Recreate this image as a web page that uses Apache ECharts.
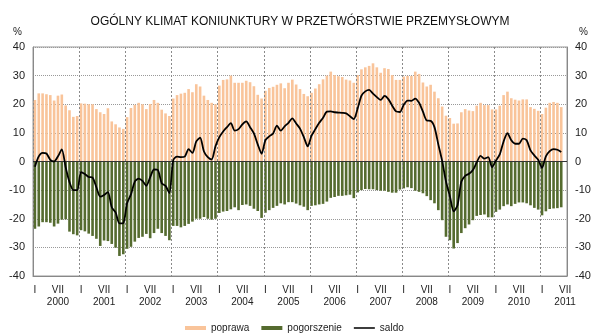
<!DOCTYPE html>
<html><head><meta charset="utf-8">
<script src="https://cdn.jsdelivr.net/npm/echarts@6/dist/echarts.min.js"></script>
<style>html,body{margin:0;padding:0;background:#fff}#c{width:600px;height:334px}</style>
</head><body><div id="c"></div>
<script>
const titleText = 'OGÓLNY KLIMAT KONIUNKTURY W PRZETWÓRSTWIE PRZEMYSŁOWYM';
const years = [2000,2001,2002,2003,2004,2005,2006,2007,2008,2009,2010,2011];
const lastMonth2011 = 7;
const yTicks = [-40,-30,-20,-10,0,10,20,30,40];
const seriesNames = ['poprawa','pogorszenie','saldo'];

const poprawa = [
 21.5,23.8,23.8,23.5,23.2,21.3,23.0,23.4,19.6,17.9,15.6,15.9,
 20.3,20.2,20.0,20.0,18.3,17.2,16.6,18.6,14.0,13.0,11.9,11.4,
 15.5,18.7,19.8,20.5,20.0,18.3,20.1,21.5,20.5,18.1,16.8,15.9,
 22.0,23.2,23.7,24.0,25.3,24.2,27.0,26.2,23.0,21.5,20.5,20.0,
 26.5,28.5,28.7,30.0,27.5,27.5,27.5,28.2,27.7,26.3,23.3,22.0,
 24.7,25.7,26.1,26.8,27.3,25.6,27.5,28.6,26.9,25.3,23.6,22.8,
 24.0,25.5,27.0,28.7,30.0,31.4,30.2,29.8,29.5,28.6,28.3,27.5,
 30.2,32.2,32.9,33.4,34.3,32.9,31.0,32.6,32.3,30.2,28.5,28.5,
 29.7,29.9,29.9,31.4,30.6,27.6,26.2,26.8,24.4,22.1,19.2,16.0,
 15.2,13.2,13.3,17.2,18.3,17.8,17.6,19.5,20.5,19.7,19.7,18.2,
 18.2,19.5,23.2,24.4,22.1,21.6,21.3,21.7,21.7,19.0,18.4,17.7,
 16.6,18.8,20.5,20.8,20.5,19.0
];
const pogorszenie = [
 -23.5,-22.7,-21.2,-21.2,-21.4,-22.7,-21.7,-20.3,-20.2,-24.5,-25.4,-25.8,
 -24.0,-24.4,-25.2,-26.0,-27.0,-29.5,-27.6,-27.8,-28.8,-30.1,-33.0,-32.4,
 -30.5,-29.8,-28.0,-26.7,-26.3,-25.3,-26.8,-25.0,-23.5,-25.0,-26.0,-27.5,
 -22.5,-22.5,-23.0,-22.5,-21.8,-21.0,-20.0,-20.0,-19.4,-20.0,-20.3,-20.0,
 -18.0,-17.5,-17.3,-16.7,-16.0,-17.0,-15.2,-15.0,-15.5,-16.5,-17.3,-19.7,
 -17.9,-17.0,-16.2,-15.5,-14.6,-15.0,-14.2,-14.2,-14.7,-15.3,-15.8,-17.0,
 -15.5,-15.3,-15.0,-14.8,-14.0,-12.7,-12.4,-12.0,-12.0,-11.8,-11.6,-12.8,
 -10.8,-10.0,-9.6,-9.7,-9.7,-10.0,-10.2,-10.2,-10.6,-10.9,-10.9,-9.8,
 -9.4,-9.0,-9.3,-10.2,-10.6,-11.1,-12.1,-13.5,-14.6,-17.0,-20.5,-26.3,
 -27.5,-30.4,-28.5,-25.0,-23.3,-22.0,-20.5,-19.0,-18.7,-18.5,-19.5,-19.5,
 -17.6,-16.8,-15.6,-15.0,-15.6,-14.8,-14.3,-14.3,-14.6,-15.3,-16.2,-16.8,
 -18.8,-17.4,-16.6,-16.4,-16.3,-16.0
];
const saldo = [
 -1.8,1.8,3.0,2.8,0.6,0.0,1.8,4.2,-2.0,-7.2,-10.0,-10.0,
 -3.7,-4.4,-5.4,-5.6,-9.0,-12.3,-11.7,-10.7,-16.0,-17.8,-21.6,-21.5,
 -14.5,-11.5,-7.0,-6.0,-6.8,-8.5,-5.5,-2.8,-3.0,-7.6,-8.5,-11.0,
 0.5,1.7,1.5,1.7,4.3,3.0,7.0,8.3,3.5,1.5,0.7,5.3,
 8.5,10.5,12.0,13.4,10.8,11.3,13.0,14.0,12.0,9.8,6.0,2.7,
 7.5,8.8,9.8,12.5,10.8,12.3,13.5,15.1,13.3,11.5,8.5,5.3,
 9.0,11.3,13.5,15.3,17.4,17.5,17.2,17.1,17.0,16.8,15.8,14.8,
 18.5,23.0,24.5,25.0,23.7,22.5,21.5,22.9,21.8,19.5,17.5,17.3,
 19.8,21.3,21.2,22.0,20.5,17.4,14.3,14.2,12.0,6.0,0.2,-7.0,
 -12.0,-17.4,-15.3,-7.0,-5.0,-4.3,-3.0,-0.3,2.0,1.0,1.5,-2.0,
 0.3,2.5,7.0,9.9,7.4,6.2,6.2,8.0,7.4,3.9,2.1,0.6,
 -2.2,1.8,3.6,4.3,4.1,3.3
];

const categories = [];
years.forEach(y => {
  for (let m = 1; m <= 12; m++) {
    if (y === 2011 && m > lastMonth2011) break;
    categories.push(y + '-' + (m < 10 ? '0' + m : m));
  }
});
const yearStarts = categories.filter(c => c.slice(5, 7) === '01');

const FONT = 'Arial, "Liberation Sans", sans-serif';
const txt = '#222';
const chart = echarts.init(document.getElementById('c'), null, {renderer: 'canvas'});

const yAxisBase = {
  type: 'value', min: yTicks[0], max: yTicks[yTicks.length - 1], interval: 10,
  axisLine: {show: true, lineStyle: {color: '#888', width: 1}},
  axisTick: {show: false},
  axisLabel: {color: txt, fontSize: 11, fontFamily: FONT, margin: 8}
};

chart.setOption({
  animation: false,
  backgroundColor: '#fff',
  textStyle: {fontFamily: FONT},
  title: {
    text: titleText, left: 'center', top: 11,
    textStyle: {fontSize: 12, fontWeight: 'normal', color: '#111', fontFamily: FONT}
  },
  graphic: [
    {type: 'text', left: 13, top: 27, style: {text: '%', fill: txt, font: '10px ' + FONT}},
    {type: 'text', left: 579, top: 27, style: {text: '%', fill: txt, font: '10px ' + FONT}}
  ],
  legend: {
    left: 180, top: 318, itemWidth: 21, itemHeight: 4, itemGap: 12,
    symbolKeepAspect: true,
    textStyle: {fontSize: 10, color: txt, fontFamily: FONT},
    data: [
      {name: seriesNames[0], icon: 'rect'},
      {name: seriesNames[1], icon: 'rect'},
      {name: seriesNames[2], icon: 'path://M0,0L22,0L22,1.6L0,1.6Z'}
    ]
  },
  grid: {left: 33, right: 33, top: 47, bottom: 58, show: true, borderColor: '#999', borderWidth: 1, containLabel: false},
  xAxis: {
    type: 'category', data: categories, boundaryGap: true,
    axisLine: {onZero: false, lineStyle: {color: '#888'}},
    axisTick: {show: false},
    axisLabel: {
      interval: 0, color: txt, fontSize: 10, fontFamily: FONT, margin: 8, lineHeight: 12,
      formatter: (v) => {
        const m = +v.slice(5, 7);
        if (m === 1) return 'I';
        if (m === 7) return 'VII\n' + v.slice(0, 4);
        return '';
      }
    },
    splitLine: {show: false}
  },
  yAxis: [
    Object.assign({}, yAxisBase, {position: 'left', splitLine: {show: true, lineStyle: {type: 'dotted', color: '#999'}}}),
    Object.assign({}, yAxisBase, {position: 'right', splitLine: {show: false}})
  ],
  series: [
    {
      name: 'yearGrid', type: 'custom', data: yearStarts.map(c => [c, 0]), silent: true, z: 10,
      encode: {x: 0, y: 1},
      renderItem: (params, api) => {
        const p = api.coord([api.value(0), 0]);
        const bw = api.size([1, 0])[0];
        const x = Math.round(p[0] - bw / 2) + 0.5;
        const cs = params.coordSys;
        return {
          type: 'line',
          shape: {x1: x, y1: cs.y, x2: x, y2: cs.y + cs.height},
          style: {stroke: '#8a8a8a', lineWidth: 1, lineDash: [2, 2]}
        };
      }
    },
    {
      name: seriesNames[0], type: 'bar', data: poprawa, barWidth: '68%', barGap: '-100%',
      itemStyle: {color: '#f9c49a'}, z: 2
    },
    {
      name: seriesNames[1], type: 'bar', data: pogorszenie, barWidth: '68%', barGap: '-100%',
      itemStyle: {color: '#556b2f'}, z: 2,
      markLine: {
        silent: true, symbol: 'none', label: {show: false},
        lineStyle: {color: '#333', width: 1, type: 'solid'},
        data: [{yAxis: 0}]
      }
    },
    {
      name: seriesNames[2], type: 'line', data: saldo, symbol: 'none', smooth: 0.25,
      lineStyle: {color: '#000', width: 1.8}, itemStyle: {color: '#000'}, z: 12
    }
  ]
});
</script>
</body></html>
